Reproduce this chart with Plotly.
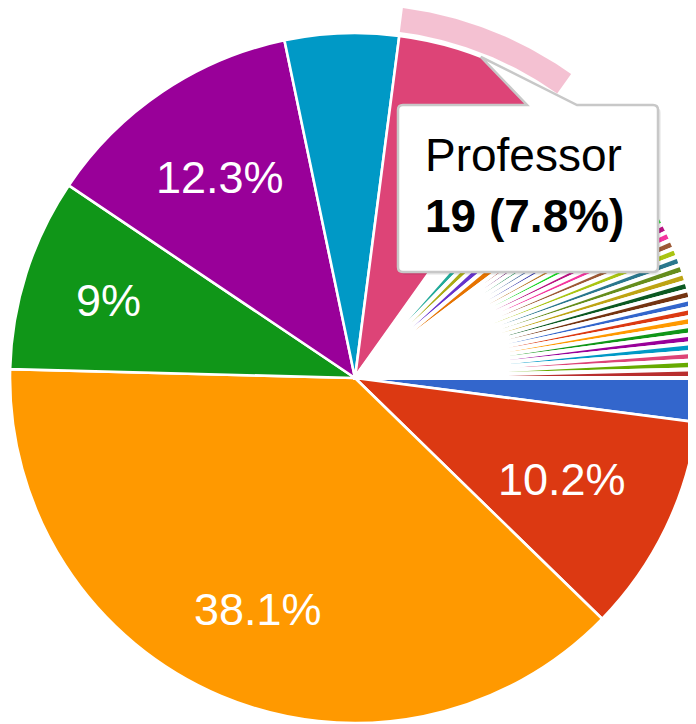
import math
import plotly.graph_objects as go

# ---------------- data ----------------
categories = [
    "Category 1", "Category 2", "Category 3", "Category 4", "Category 5",
    "Category 6", "Professor", "Category 8", "Category 9", "Category 10",
    "Category 11", "Category 12", "Category 13", "Category 14", "Category 15",
    "Category 16", "Category 17", "Category 18", "Category 19", "Category 20",
    "Category 21", "Category 22", "Category 23", "Category 24", "Category 25",
    "Category 26", "Category 27", "Category 28", "Category 29", "Category 30",
    "Category 31", "Category 32", "Category 33", "Category 34", "Category 35",
    "Category 36", "Category 37", "Category 38", "Category 39", "Category 40",
]
counts = [
    5, 25, 93, 22, 30, 13, 19,
    1, 1, 1, 1, 2, 2, 2, 2, 1, 1, 1, 1, 1, 1,
    1, 1, 1, 1, 1, 1, 1, 1, 1, 1, 1, 1, 1, 1, 1, 1, 1, 1, 1,
]
palette = [
    "#3366cc", "#dc3912", "#ff9900", "#109618", "#990099", "#0099c6",
    "#dd4477", "#66aa00", "#b82e2e", "#316395", "#994499", "#22aa99",
    "#aaaa11", "#6633cc", "#e67300", "#8b0707", "#651067", "#329262",
    "#5574a6", "#3b3eac", "#b77322", "#16d620", "#b91383", "#f4359e",
    "#9c5935", "#a9c413", "#2a778d", "#668d1c", "#bea413", "#0c5922",
    "#743411",
]
highlighted = "Professor"

# ---------------- layout constants ----------------
W, H = 696, 724
CX, CY, R = 347, 370, 345          # pie centre / radius in figure pixels
START = 90                          # first slice starts at 3 o'clock
LABEL_SIZE = 45
LABEL_EXTENT = 0.855                # outer corner of a label sits at this fraction of R
FONT = "Liberation Sans, Arial, sans-serif"
CHAR_W = {"%": 0.889, ".": 0.278}   # Arial advance widths (em); digits 0.556

total = sum(counts)
pcts = [100.0 * c / total for c in counts]
colors = [palette[i % len(palette)] for i in range(len(counts))]
line_w = [2.6 if p >= 1.5 else 4.0 for p in pcts]


def fmt(p):
    s = f"{p:.1f}"
    if s.endswith(".0"):
        s = s[:-2]
    return s + "%"


# slice angles (degrees clockwise from 12 o'clock)
starts, stops = [], []
acc = 0
for c in counts:
    starts.append(START + 360.0 * acc / total)
    acc += c
    stops.append(START + 360.0 * acc / total)


def pt(angle_deg, rad):
    a = math.radians(angle_deg)
    return CX + rad * math.sin(a), CY - rad * math.cos(a)


def label_radius(text, angle_deg):
    hw = sum(CHAR_W.get(ch, 0.556) for ch in text) * LABEL_SIZE / 2
    hh = 0.716 * LABEL_SIZE / 2
    a = math.radians(angle_deg)
    s, c = abs(math.sin(a)), abs(math.cos(a))
    b = s * hw + c * hh
    d = LABEL_EXTENT * R
    return -b + math.sqrt(b * b - (hw * hw + hh * hh - d * d))


fig = go.Figure()

# highlight ring around hovered slice
hi = categories.index(highlighted)
n = 60
ring_x, ring_y = [], []
for k in range(n + 1):
    ang = starts[hi] + (stops[hi] - starts[hi]) * k / n
    x, y = pt(ang, R + 28)
    ring_x.append(x); ring_y.append(y)
for k in range(n, -1, -1):
    ang = starts[hi] + (stops[hi] - starts[hi]) * k / n
    x, y = pt(ang, R + 4)
    ring_x.append(x); ring_y.append(y)
fig.add_trace(go.Scatter(
    x=ring_x, y=ring_y, mode="lines", fill="toself",
    fillcolor="rgba(221,68,119,0.33)", line=dict(width=0),
    hoverinfo="skip", showlegend=False, cliponaxis=False,
))

fig.add_trace(go.Pie(
    labels=categories, values=counts, sort=False,
    direction="clockwise", rotation=START,
    marker=dict(colors=colors, line=dict(color="#ffffff", width=line_w)),
    textinfo="none", hoverinfo="label+value+percent",
    domain=dict(x=[(CX - R) / W, (CX + R) / W],
                y=[1 - (CY + R) / H, 1 - (CY - R) / H]),
    showlegend=False,
))

annotations = []
for i, p in enumerate(pcts):
    if p >= 8 and categories[i] != highlighted:
        mid = (starts[i] + stops[i]) / 2
        txt = fmt(p)
        x, y = pt(mid, label_radius(txt, mid))
        annotations.append(dict(
            x=x, y=y + 1, xref="x", yref="y", text=txt, showarrow=False,
            xanchor="center", yanchor="middle",
            font=dict(family=FONT, size=LABEL_SIZE, color="#ffffff"),
        ))

# tooltip
tip_x, tip_y = pt((starts[hi] + stops[hi]) / 2, R)
bx0, by0, bx1, by1 = 390, 97, 650, 264
px0, px1 = 519, 569
cr = 5


def box_path(dx=0.0, dy=0.0):
    X0, Y0, X1, Y1 = bx0 + dx, by0 + dy, bx1 + dx, by1 + dy
    return (f"M {X0+cr},{Y0} L {px0+dx},{Y0} L {tip_x+dx},{tip_y+dy} "
            f"L {px1+dx},{Y0} L {X1-cr},{Y0} Q {X1},{Y0} {X1},{Y0+cr} "
            f"L {X1},{Y1-cr} Q {X1},{Y1} {X1-cr},{Y1} L {X0+cr},{Y1} "
            f"Q {X0},{Y1} {X0},{Y1-cr} L {X0},{Y0+cr} Q {X0},{Y0} {X0+cr},{Y0} Z")


shapes = [
    dict(type="path", path=box_path(3, 3), xref="x", yref="y", layer="above",
         fillcolor="rgba(0,0,0,0.06)", line=dict(width=0)),
    dict(type="path", path=box_path(1.5, 1.5), xref="x", yref="y", layer="above",
         fillcolor="rgba(0,0,0,0.07)", line=dict(width=0)),
    dict(type="path", path=box_path(), xref="x", yref="y", layer="above",
         fillcolor="#ffffff", line=dict(color="#c8c8c8", width=2.5)),
]

annotations.append(dict(
    x=415, y=147, xref="x", yref="y", text=categories[hi], showarrow=False,
    xanchor="left", yanchor="middle",
    font=dict(family=FONT, size=46, color="#000000"),
))
annotations.append(dict(
    x=415, y=208, xref="x", yref="y",
    text=f"<b>{counts[hi]} ({fmt(pcts[hi])})</b>", showarrow=False,
    xanchor="left", yanchor="middle",
    font=dict(family=FONT, size=46, color="#000000"),
))

fig.update_layout(
    width=W, height=H, autosize=False,
    margin=dict(l=0, r=0, t=0, b=0),
    paper_bgcolor="#ffffff", plot_bgcolor="#ffffff",
    xaxis=dict(range=[0, W], visible=False, fixedrange=True),
    yaxis=dict(range=[H, 0], visible=False, fixedrange=True),
    shapes=shapes, annotations=annotations,
    showlegend=False,
)

fig.write_html("out.html", config=dict(displayModeBar=False))
